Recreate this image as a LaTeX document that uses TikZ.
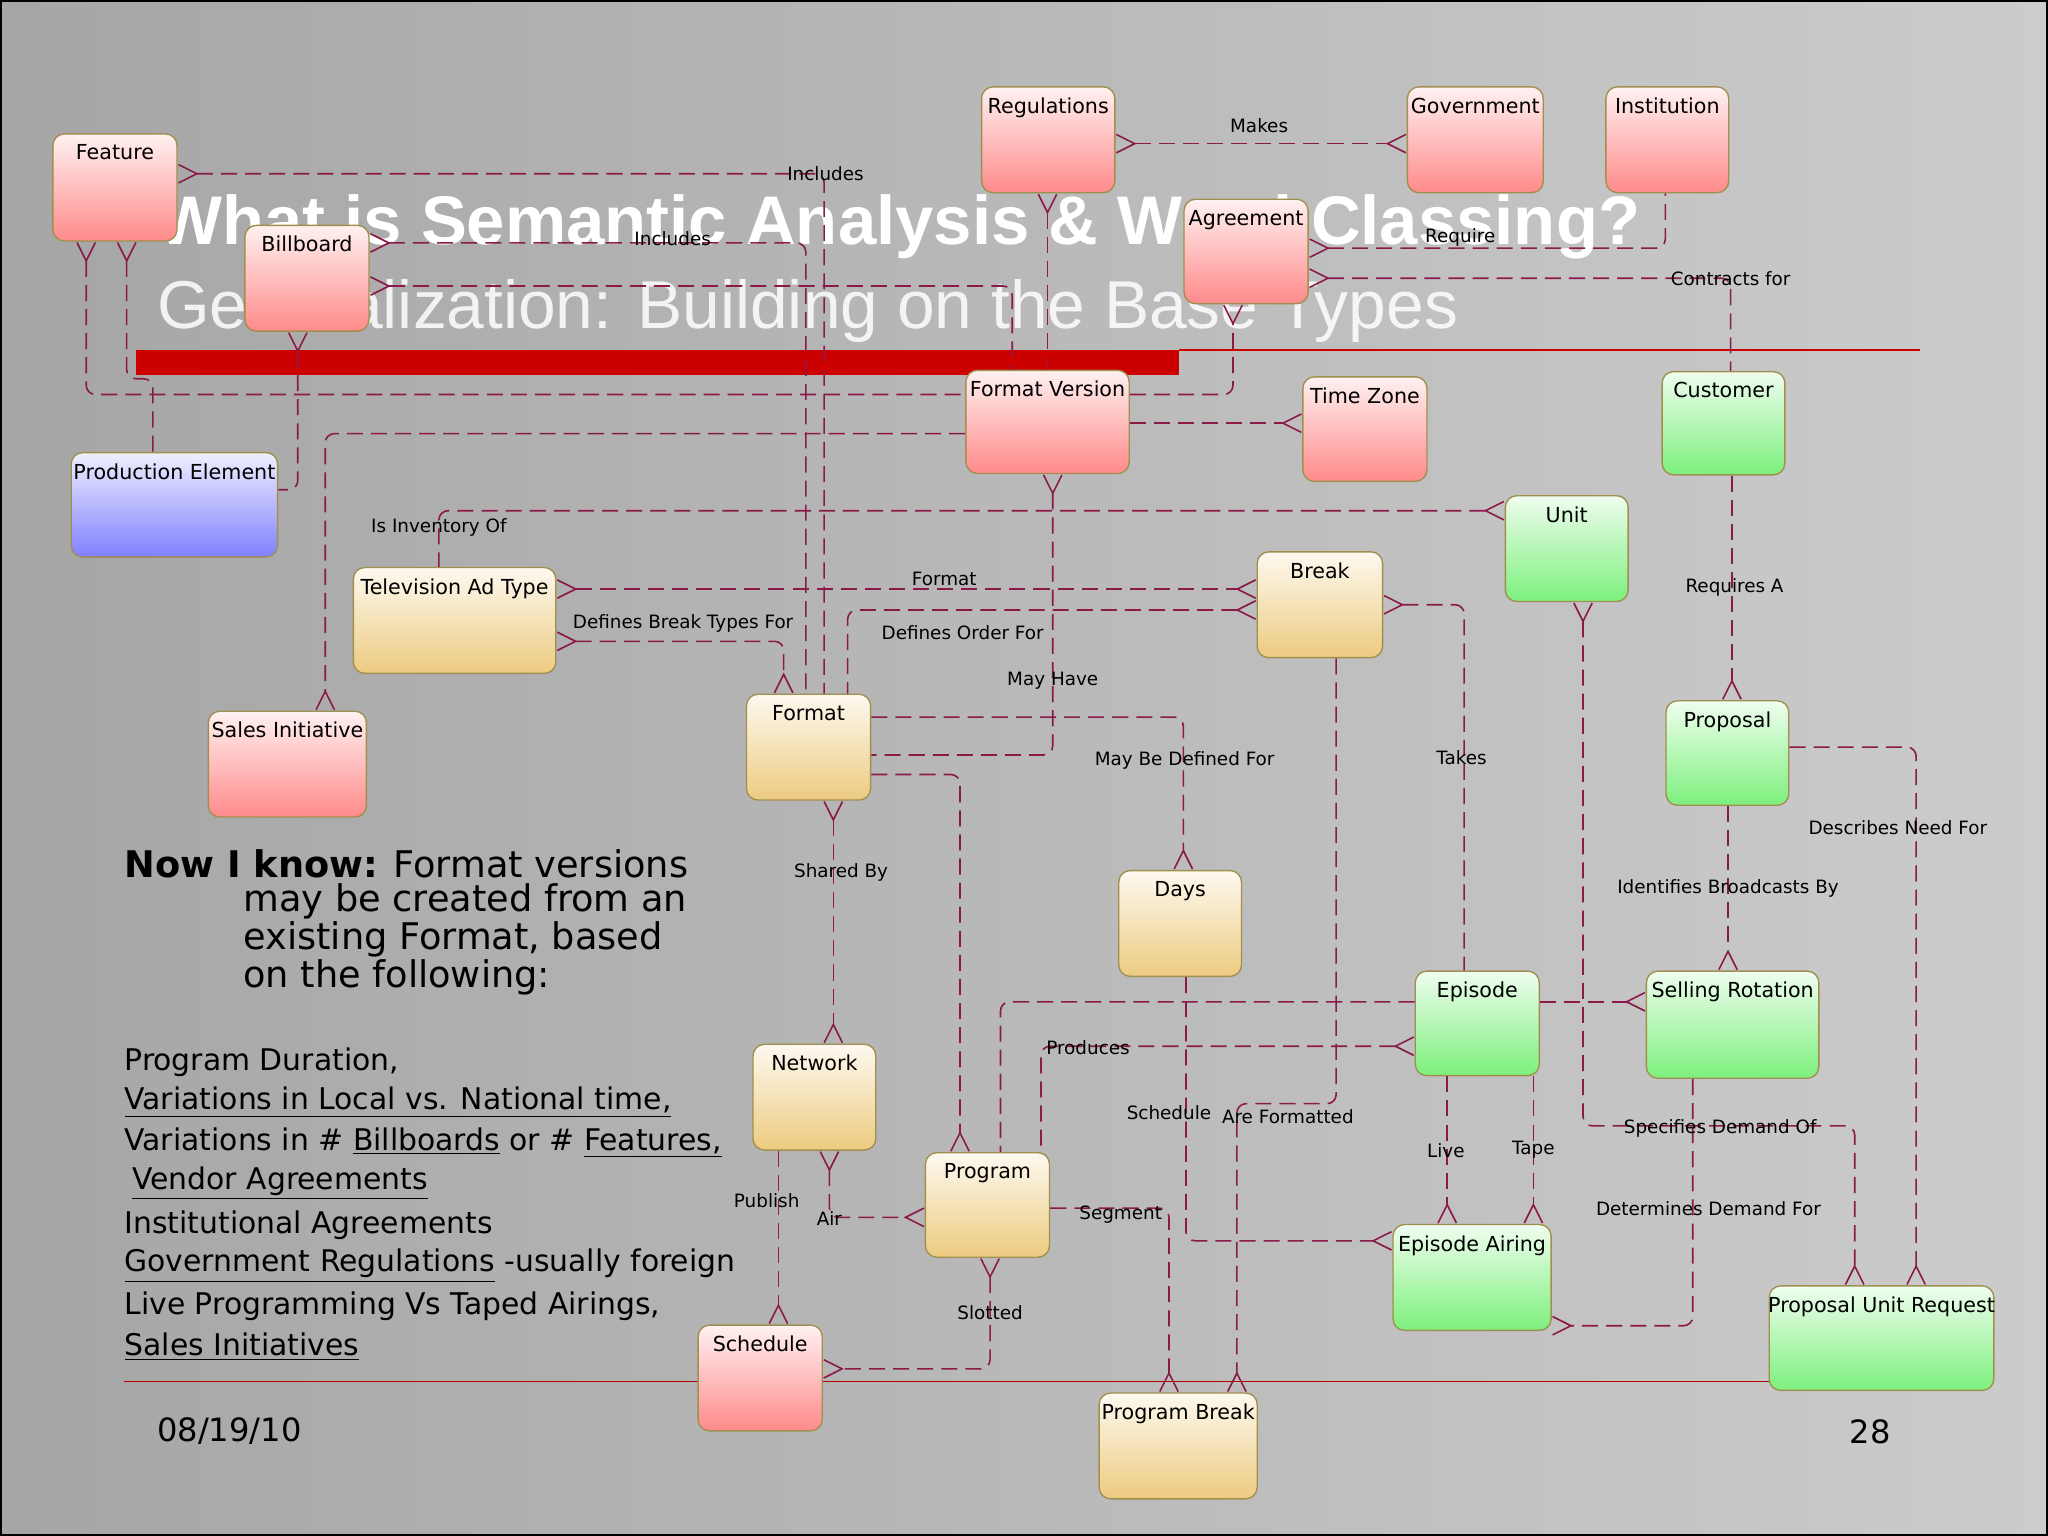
\documentclass[tikz,border=0pt]{standalone}
\usepackage{fontspec}
\setmainfont{DejaVu Sans}
\newfontfamily\arialf{Liberation Sans}
\usetikzlibrary{arrows.meta}
\definecolor{relc}{HTML}{8B1A4A}
\definecolor{redb}{HTML}{FF8A8A}
\definecolor{greenb}{HTML}{7CF07C}
\definecolor{yelb}{HTML}{EDCB80}
\definecolor{blueb}{HTML}{8080FF}
\definecolor{edgeb}{HTML}{A09050}
\newcommand{\ent}[7]{\node[ent=#6,minimum width={(#4-#2)*0.02cm},minimum height={(#5-#3)*0.02cm},
  label={[anchor=north,yshift=-1.5pt,font=\small]north:#7}] (#1) at (#2,#3) {};}
\tikzset{
  cf/.tip={Straight Barb[reversed,length=8pt,width=8pt]},
  ent/.style={anchor=north west,draw=edgeb,line width=0.6pt,rounded corners=5pt,inner sep=0pt,
     top color=#1!12,bottom color=#1},
  rel/.style={draw=relc,line width=0.7pt,dash pattern=on 7pt off 3.5pt,rounded corners=4pt},
  rl/.style={font=\footnotesize,inner sep=1pt},
  body/.style={font=\fontsize{16}{18}\selectfont,anchor=west,inner sep=0pt},
  lst/.style={font=\fontsize{13}{15}\selectfont,anchor=west,inner sep=0pt}
}
\begin{document}
\begin{tikzpicture}[x=0.02cm,y=-0.02cm]
\shade[left color=gray!70,middle color=gray!4,right color=gray!40] (0,0) rectangle (1568,1176);
\useasboundingbox (0,0) rectangle (1568,1176);
\draw[black,line width=1pt] (0.5,0.5) rectangle (1567.5,1175.5);
% title
\node[anchor=west,text=white,font=\arialf\bfseries\fontsize{30}{33}\selectfont,inner sep=0pt] (t1) at (120,174) {What is Semantic Analysis \& Word Classing?};
\node[anchor=west,text=white,opacity=0.85,font=\arialf\fontsize{29.5}{32}\selectfont,inner sep=0pt] (t2) at (120,238) {Generalization: Building on the Base Types};
\fill[red!80!black] (104,268) rectangle (903,287);
\draw[red!80!black,line width=0.6pt] (903,268) -- (1470,268);
\draw[red!70!black,line width=0.4pt] (95,1058) -- (1470,1058);
\node[anchor=west,font=\fontsize{14}{16}\selectfont,inner sep=0pt] (dt) at (120,1096) {08/19/10};
\node[anchor=east,font=\fontsize{14}{16}\selectfont,inner sep=0pt] (pg) at (1448,1096) {28};
% body text
\node[body] (b1) at (95,661) {\textbf{Now I know:} Format versions};
\node[body] (b2) at (186,690) {may be created from an};
\node[body] (b3) at (186,719) {existing Format, based};
\node[body] (b4) at (186,748) {on the following:};
\node[lst] (c1) at (95,813) {Program Duration,};
\node[lst] (c2) at (95,844) {\underline{Variations in Local vs. National time,}};
\node[lst] (c3) at (95,875) {Variations in \# \underline{Billboards} or \# \underline{Features,}};
\node[lst] (c4) at (101,906) {\underline{Vendor Agreements}};
\node[lst] (c5) at (95,938) {Institutional Agreements};
\node[lst] (c6) at (95,969) {\underline{Government Regulations} -usually foreign};
\node[lst] (c7) at (95,1000) {Live Programming Vs Taped Airings,};
\node[lst] (c8) at (95,1031) {\underline{Sales Initiatives}};
% entities
\ent{feat}{40}{102}{135}{184}{redb}{Feature}
\ent{bill}{187}{172}{282}{253}{redb}{Billboard}
\ent{regu}{751}{66}{853}{147}{redb}{Regulations}
\ent{gov}{1077}{66}{1181}{147}{redb}{Government}
\ent{inst}{1229}{66}{1323}{147}{redb}{Institution}
\ent{agr}{906}{152}{1001}{232}{redb}{Agreement}
\ent{fv}{739}{283}{864}{362}{redb}{Format Version}
\ent{tz}{997}{288}{1092}{368}{redb}{Time Zone}
\ent{cust}{1272}{284}{1366}{363}{greenb}{Customer}
\ent{pe}{54}{346}{212}{426}{blueb}{Production Element}
\ent{unit}{1152}{379}{1246}{460}{greenb}{Unit}
\ent{tv}{270}{434}{425}{515}{yelb}{Television Ad Type}
\ent{brk}{962}{422}{1058}{503}{yelb}{Break}
\ent{si}{159}{544}{280}{625}{redb}{Sales Initiative}
\ent{fmt}{571}{531}{666}{612}{yelb}{Format}
\ent{prop}{1275}{536}{1369}{616}{greenb}{Proposal}
\ent{days}{856}{666}{950}{747}{yelb}{Days}
\ent{epi}{1083}{743}{1178}{823}{greenb}{Episode}
\ent{sr}{1260}{743}{1392}{825}{greenb}{Selling Rotation}
\ent{net}{576}{799}{670}{880}{yelb}{Network}
\ent{prog}{708}{882}{803}{962}{yelb}{Program}
\ent{ea}{1066}{937}{1187}{1018}{greenb}{Episode Airing}
\ent{pur}{1354}{984}{1526}{1064}{greenb}{Proposal Unit Request}
\ent{sch}{534}{1014}{629}{1095}{redb}{Schedule}
\ent{pb}{841}{1066}{962}{1147}{yelb}{Program Break}
% connectors
\begin{scope}[rel]
\draw[cf-] (feat.east |- 0,133) -- (631,133) -- (631,0 |- fmt.north);
\draw[cf-] (bill.east |- 0,186) -- (617,186) -- (617,0 |- fmt.north);
\draw[cf-] (bill.east |- 0,219) -- (775,219) -- (775,0 |- fv.north);
\draw[cf-] (66,0 |- feat.south) -- (66,302) -- (fv.west |- 0,302);
\draw[cf-] (97,0 |- feat.south) -- (97,290) -- (117,290) -- (117,0 |- pe.north);
\draw[cf-] (228,0 |- bill.south) -- (228,375) -- (pe.east |- 0,375);
\draw[-cf] (fv.west |- 0,332) -- (249,332) -- (249,0 |- si.north);
\draw[-cf] (fv.east |- 0,302) -- (944,302) -- (944,0 |- agr.south);
\draw[-cf] (fv.east |- 0,324) -- (tz.west |- 0,324);
\draw[cf-] (806,0 |- fv.south) -- (806,578) -- (fmt.east |- 0,578);
\draw[cf-] (802,0 |- regu.south) -- (802,0 |- fv.north);
\draw[cf-cf] (regu.east |- 0,110) -- (gov.west |- 0,110);
\draw[cf-] (agr.east |- 0,190) -- (1275,190) -- (1275,0 |- inst.south);
\draw[cf-] (agr.east |- 0,213) -- (1325,213) -- (1325,0 |- cust.north);
\draw[cf-] (unit.west |- 0,391) -- (336,391) -- (336,0 |- tv.north);
\draw[cf-cf] (tv.east |- 0,451) -- (brk.west |- 0,451);
\draw[cf-cf] (tv.east |- 0,491) -- (600,491) -- (600,0 |- fmt.north);
\draw[cf-] (brk.west |- 0,467) -- (649,467) -- (649,0 |- fmt.north);
\draw[-cf] (fmt.east |- 0,549) -- (906,549) -- (906,0 |- days.north);
\draw[-cf] (fmt.east |- 0,593) -- (735,593) -- (735,0 |- prog.north);
\draw[cf-cf] (638,0 |- fmt.south) -- (638,0 |- net.north);
\draw[cf-] (brk.east |- 0,463) -- (1121,463) -- (1121,0 |- epi.north);
\draw[-cf] (1023,0 |- brk.south) -- (1023,845) -- (947,845) -- (947,0 |- pb.north);
\draw[cf-cf] (1212,0 |- unit.south) -- (1212,862) -- (1420,862) -- (1420,0 |- pur.north);
\draw[-cf] (1326,0 |- cust.south) -- (1326,0 |- prop.north);
\draw[-cf] (prop.east |- 0,572) -- (1467,572) -- (1467,0 |- pur.north);
\draw[-cf] (1323,0 |- prop.south) -- (1323,0 |- sr.north);
\draw[-cf] (epi.east |- 0,767) -- (sr.west |- 0,767);
\draw (epi.west |- 0,767) -- (766,767) -- (766,0 |- prog.north);
\draw[cf-] (epi.west |- 0,801) -- (797,801) -- (797,0 |- prog.north);
\draw[-cf] (1108,0 |- epi.south) -- (1108,0 |- ea.north);
\draw[-cf] (1174,0 |- epi.south) -- (1174,0 |- ea.north);
\draw[-cf] (908,0 |- days.south) -- (908,950) -- (ea.west |- 0,950);
\draw[-cf] (1296,0 |- sr.south) -- (1296,1015) -- (ea.east |- 0,1015);
\draw[cf-cf] (635,0 |- net.south) -- (635,932) -- (prog.west |- 0,932);
\draw[-cf] (596,0 |- net.south) -- (596,0 |- sch.north);
\draw[cf-cf] (758,0 |- prog.south) -- (758,1048) -- (sch.east |- 0,1048);
\draw[-cf] (prog.east |- 0,925) -- (895,925) -- (895,0 |- pb.north);
\end{scope}
% connector labels
\node[rl] (l1) at (632,133) {Includes};
\node[rl] (l2) at (515,183) {Includes};
\node[rl] (l3) at (964,96) {Makes};
\node[rl] (l4) at (1118,182) {Require};
\node[rl] (l5) at (1325,213) {Contracts for};
\node[rl] (l6) at (336,404) {Is Inventory Of};
\node[rl] (l7) at (723,443) {Format};
\node[rl] (l8) at (523,477) {Defines Break Types For};
\node[rl] (l9) at (737,484) {Defines Order For};
\node[rl] (l10) at (806,521) {May Have};
\node[rl] (l11) at (907,582) {May Be Defined For};
\node[rl] (l12) at (1328,450) {Requires A};
\node[rl] (l13) at (1119,580) {Takes};
\node[rl] (l14) at (1453,634) {Describes Need For};
\node[rl] (l15) at (644,668) {Shared By};
\node[rl] (l16) at (1323,680) {Identifies Broadcasts By};
\node[rl] (l17) at (833,802) {Produces};
\node[rl] (l18) at (895,852) {Schedule};
\node[rl] (l19) at (986,855) {Are Formatted};
\node[rl] (l20) at (1317,864) {Specifies Demand Of};
\node[rl] (l21) at (1107,881) {Live};
\node[rl] (l22) at (1174,880) {Tape};
\node[rl] (l23) at (1308,925) {Determines Demand For};
\node[rl] (l24) at (587,919) {Publish};
\node[rl] (l25) at (635,933) {Air};
\node[rl] (l26) at (858,930) {Segment};
\node[rl] (l27) at (758,1005) {Slotted};
\end{tikzpicture}
\end{document}
